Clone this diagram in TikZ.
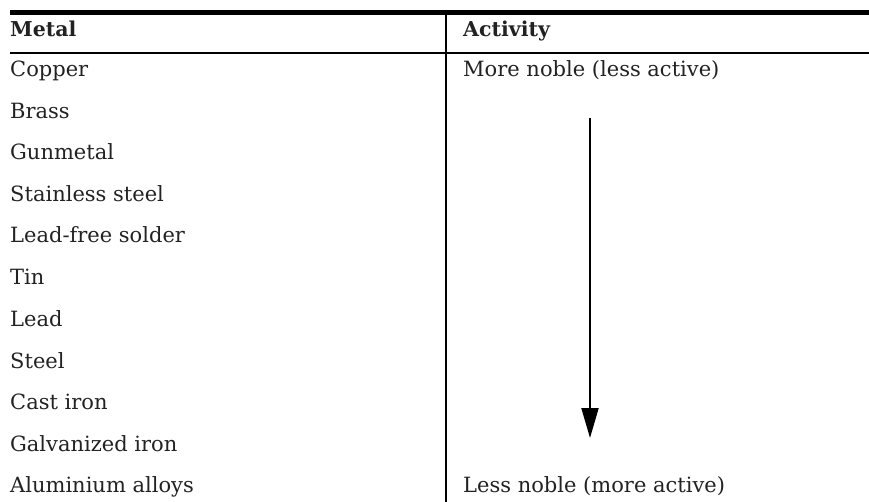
\documentclass[tikz,border=0pt]{standalone}
\usepackage{fontspec}
\setmainfont{DejaVu Serif}
\usetikzlibrary{arrows.meta}
\definecolor{inkgray}{HTML}{222222}
\tikzset{x=1pt, y=-1pt,
every node/.style={ % Sets the properties for each table entry
inner sep=0pt,
anchor=base west,
text=inkgray,
font=\fontsize{21}{25}\selectfont},
head/.style={font=\fontsize{20.5}{25}\selectfont\bfseries},
thick rule/.style={line width=4.6pt},
thin rule/.style={line width=1.4pt},
column rule/.style={line width=2pt},
noble arrow/.style={ % Long arrow down the activity column
line width=2pt,
-{Triangle[length=30pt,width=17pt]}}}

\begin{document}
\begin{tikzpicture}
\useasboundingbox (0,0) rectangle (869,502);
\coordinate (topl) at (10,12.5);
\coordinate (topr) at (869,12.5);
\coordinate (headl) at (10,53);
\coordinate (headr) at (869,53);
\coordinate (coltop) at (446,10);
\coordinate (colbot) at (446,502);
\coordinate (more) at (590,118);
\coordinate (less) at (590,438);
\node[head] (metal) at (10,37) {Metal};
\node[head] (activity) at (463,37) {Activity};
\node (m1) at (10,77) {Copper};
\node (m2) at (10,119) {Brass};
\node (m3) at (10,160) {Gunmetal};
\node (m4) at (10,202) {Stainless steel};
\node (m5) at (10,243) {Lead-free solder};
\node (m6) at (10,285) {Tin};
\node (m7) at (10,326) {Lead};
\node (m8) at (10,368) {Steel};
\node (m9) at (10,409) {Cast iron};
\node (m10) at (10,451) {Galvanized iron};
\node (m11) at (10,492) {Aluminium alloys};
\node (a1) at (463,77) {More noble (less active)};
\node (a11) at (463,492) {Less noble (more active)};
\draw[thick rule] (topl) -- (topr);
\draw[thin rule] (headl) -- (headr);
\draw[column rule] (coltop) -- (colbot);
\draw[noble arrow] (more) -- (less);
\end{tikzpicture}
\end{document}
